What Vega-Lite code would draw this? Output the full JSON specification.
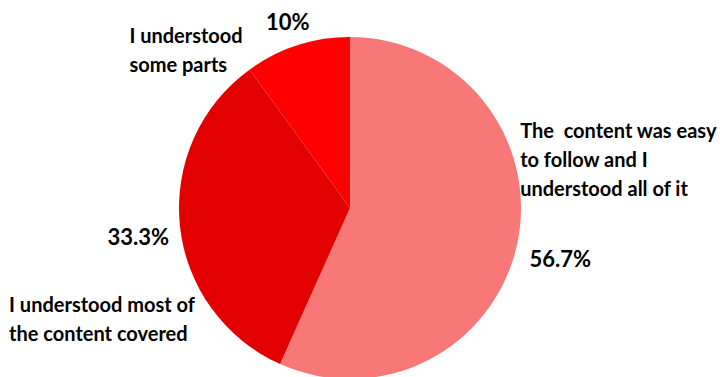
{
  "$schema": "https://vega.github.io/schema/vega-lite/v6.json",
  "width": 700,
  "height": 338,
  "autosize": "none",
  "padding": {"left": 0, "top": 39, "right": 20, "bottom": 0},
  "background": "white",
  "config": {"view": {"stroke": null}},
  "data": {
    "values": [
      {"category": "The\u00a0 content was easy\nto follow and I\nunderstood all of it", "value": 56.7, "label": "56.7%", "rank": 1},
      {"category": "I understood most of\nthe content covered", "value": 33.3, "label": "33.3%", "rank": 2},
      {"category": "I understood\nsome parts", "value": 10, "label": "10%", "rank": 3}
    ]
  },
  "encoding": {
    "theta": {"field": "value", "type": "quantitative", "stack": true},
    "order": {"field": "rank", "type": "quantitative"}
  },
  "layer": [
    {
      "mark": {"type": "arc", "outerRadius": 171},
      "encoding": {
        "color": {
          "field": "rank",
          "type": "nominal",
          "scale": {"domain": [1, 2, 3], "range": ["#F87878", "#E30000", "#FF0000"]},
          "legend": null
        }
      }
    },
    {
      "mark": {"type": "text", "radius": 215, "dx": 0, "dy": 7, "font": "Lato", "fontWeight": "bold", "fontSize": 22, "align": "center", "baseline": "middle", "color": "#000"},
      "encoding": {"text": {"condition": {"test": "datum.rank == 1", "field": "label"}, "value": ""}}
    },
    {
      "mark": {"type": "text", "radius": 214, "dx": 1, "dy": 8, "font": "Lato", "fontWeight": "bold", "fontSize": 22, "align": "center", "baseline": "middle", "color": "#000"},
      "encoding": {"text": {"condition": {"test": "datum.rank == 2", "field": "label"}, "value": ""}}
    },
    {
      "mark": {"type": "text", "radius": 195, "dx": -2, "dy": 0, "font": "Lato", "fontWeight": "bold", "fontSize": 22, "align": "center", "baseline": "middle", "color": "#000"},
      "encoding": {"text": {"condition": {"test": "datum.rank == 3", "field": "label"}, "value": ""}}
    },
    {
      "mark": {"type": "text", "radius": 175, "dx": -1, "dy": -113, "font": "Lato", "fontWeight": "bold", "fontSize": 20, "lineHeight": 29, "lineBreak": "\n", "align": "left", "baseline": "middle", "color": "#000"},
      "encoding": {"text": {"condition": {"test": "datum.rank == 1", "field": "category"}, "value": ""}}
    },
    {
      "mark": {"type": "text", "radius": 200, "dx": -142, "dy": 77, "font": "Lato", "fontWeight": "bold", "fontSize": 20, "lineHeight": 29, "lineBreak": "\n", "align": "left", "baseline": "middle", "color": "#000"},
      "encoding": {"text": {"condition": {"test": "datum.rank == 2", "field": "category"}, "value": ""}}
    },
    {
      "mark": {"type": "text", "radius": 180, "dx": -165, "dy": 0, "font": "Lato", "fontWeight": "bold", "fontSize": 20, "lineHeight": 29, "lineBreak": "\n", "align": "left", "baseline": "middle", "color": "#000"},
      "encoding": {"text": {"condition": {"test": "datum.rank == 3", "field": "category"}, "value": ""}}
    }
  ]
}
